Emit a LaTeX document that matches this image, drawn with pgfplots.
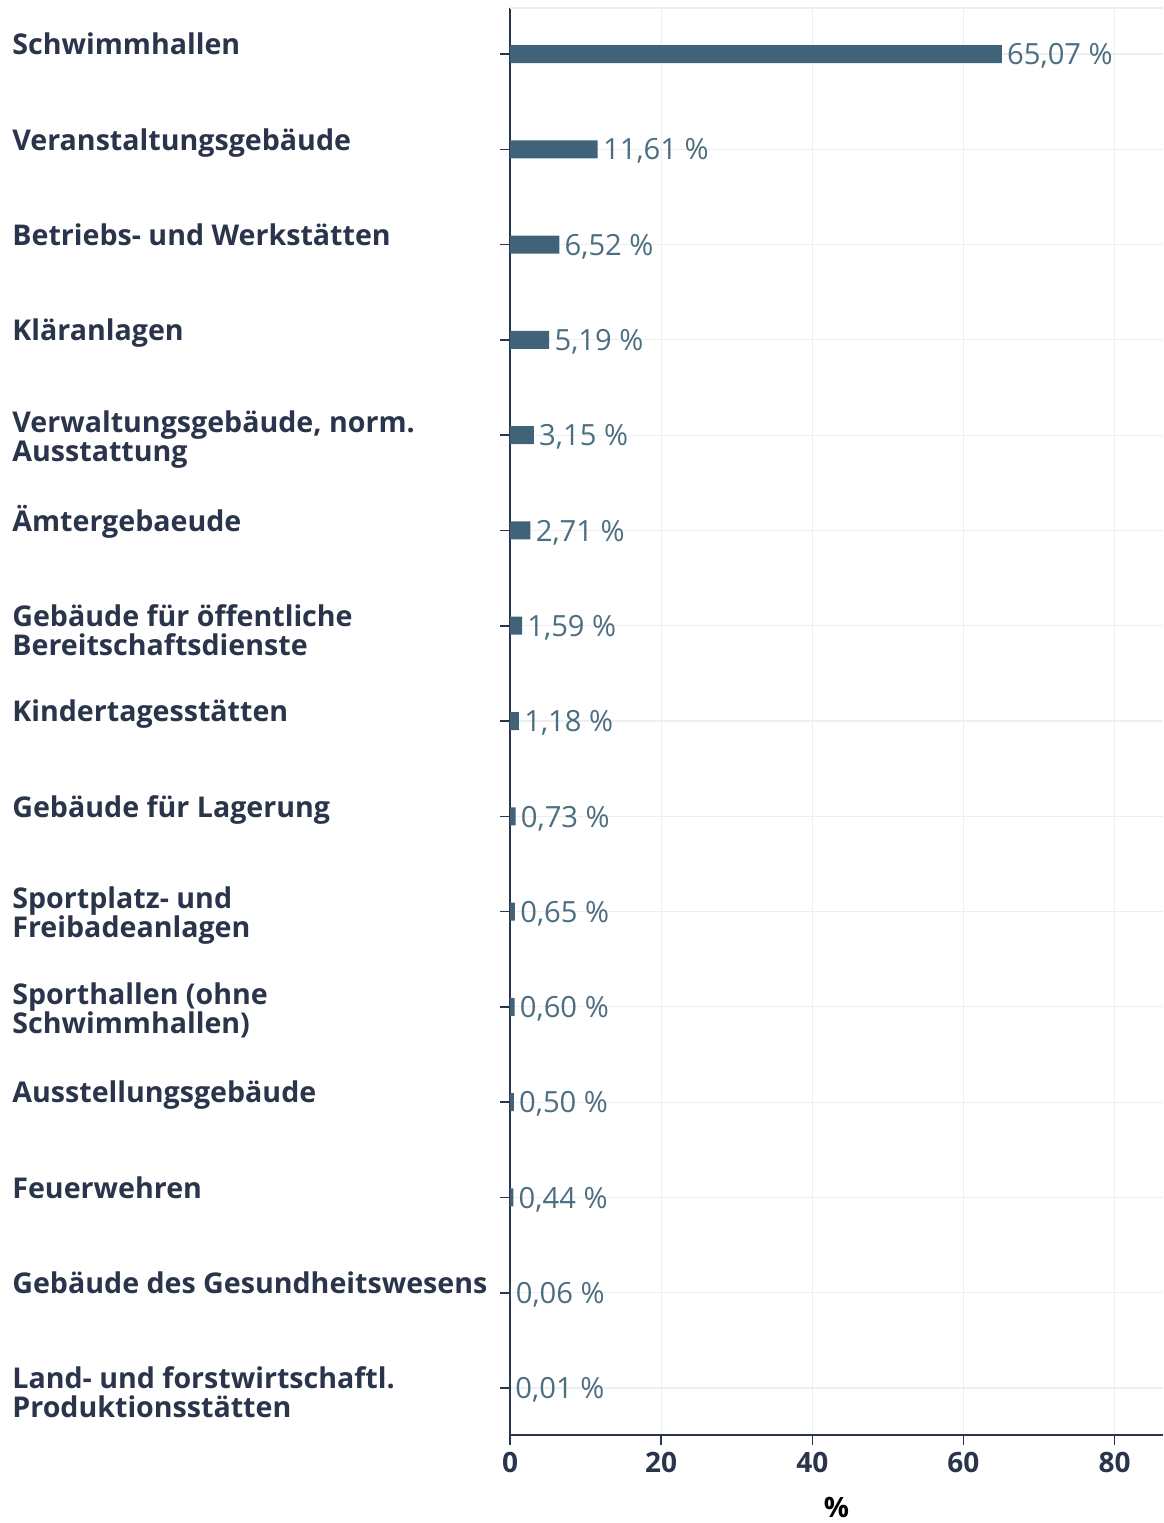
\documentclass[border=0pt]{standalone}
\usepackage{pgfplots}
\pgfplotsset{compat=1.18}
\usepackage{fontspec}
\setmainfont{Open Sans}
\definecolor{barc}{HTML}{41637A}
\definecolor{valc}{HTML}{4B6E80}
\definecolor{ink}{HTML}{2A344A}
\definecolor{gridc}{HTML}{EEEEEE}
\newcommand\one[1]{\raisebox{4.5bp}[\ht\strutbox][\dp\strutbox]{#1}}

\begin{document}
\begin{tikzpicture}
\begin{axis}[
  name=ax,
  scale only axis,
  width=326.5bp, height=713.5bp,
  xbar, bar width=9bp, bar shift=0pt,
  xmin=0, xmax=86.4,
  ymin=-0.493, ymax=14.483,
  axis x line*=bottom, axis y line*=left,
  x axis line style={-, color=ink, line width=0.8pt},
  y axis line style={-, color=ink, line width=0.8pt},
  xtick={0,20,40,60,80},
  ytick={0,...,14},
  tick align=outside, major tick length=5bp,
  tick style={color=ink, line width=0.8pt},
  xmajorgrids, ymajorgrids,
  grid style={color=gridc, line width=0.6pt},
  /pgf/number format/assume math mode=true,
  xticklabel style={font=\fontsize{14bp}{16bp}\selectfont\bfseries, color=ink},
  yticklabel style={font=\fontsize{14.3bp}{14.5bp}\selectfont\bfseries, color=ink,
                    anchor=west, align=left, inner xsep=0pt, xshift=-244bp, yshift=-2bp},
  yticklabels={
    {Land- und forstwirtschaftl.\\Produktionsstätten},
    {\one{Gebäude des Gesundheitswesens}},
    {\one{Feuerwehren}},
    {\one{Ausstellungsgebäude}},
    {Sporthallen (ohne\\Schwimmhallen)},
    {Sportplatz- und\\Freibadeanlagen},
    {\one{Gebäude für Lagerung}},
    {\one{Kindertagesstätten}},
    {Gebäude für öffentliche\\Bereitschaftsdienste},
    {\one{Ämtergebaeude}},
    {Verwaltungsgebäude, norm.\\Ausstattung},
    {\one{Kläranlagen}},
    {\one{Betriebs- und Werkstätten}},
    {\one{Veranstaltungsgebäude}},
    {\one{Schwimmhallen}}},
  xlabel={\bfseries\%},
  xlabel style={font=\fontsize{14bp}{16bp}\selectfont, color=black, yshift=-5.5bp},
  nodes near coords={\pgfmathprintnumber[fixed,fixed zerofill,precision=2,use comma]{\pgfplotspointmeta}~\%},
  every node near coord/.append style={font=\fontsize{14.6bp}{16bp}\selectfont, color=valc,
                    anchor=west, inner xsep=2.5bp, yshift=-1bp},
  clip=false,
]
\addplot[fill=barc, draw=none] coordinates {
  (0.01,0) (0.06,1) (0.44,2) (0.50,3) (0.60,4) (0.65,5) (0.73,6) (1.18,7)
  (1.59,8) (2.71,9) (3.15,10) (5.19,11) (6.52,12) (11.61,13) (65.07,14)};
\draw[gridc, line width=0.6pt] (rel axis cs:0,1) -- (rel axis cs:1,1);
\end{axis}
\pgfresetboundingbox
\path[use as bounding box] ([xshift=-255bp, yshift=-44bp]ax.south west) rectangle ([yshift=4bp]ax.north east);
\end{tikzpicture}
\end{document}
